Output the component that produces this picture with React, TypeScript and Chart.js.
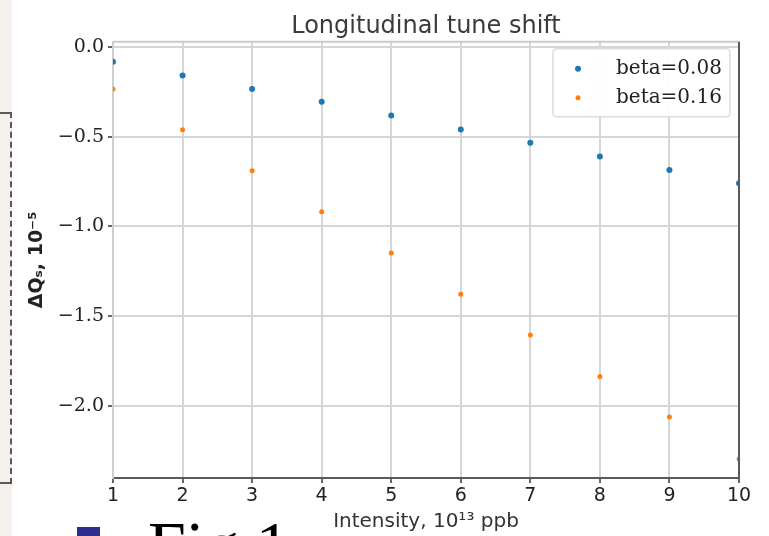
import React, { useEffect, useRef } from 'react';
import { Chart, registerables } from 'chart.js';

Chart.register(...registerables);

const TITLE = 'Longitudinal tune shift';
const X_LABEL = 'Intensity, 10¹³ ppb';
const Y_LABEL = 'ΔQₛ, 10⁻⁵';
const CAPTION = 'Fig.1';

const INTENSITY = [1, 2, 3, 4, 5, 6, 7, 8, 9, 10];
const BETA_008 = [-0.08, -0.157, -0.232, -0.303, -0.381, -0.458, -0.532, -0.609, -0.684, -0.758];
const BETA_016 = [-0.232, -0.46, -0.689, -0.918, -1.148, -1.378, -1.606, -1.837, -2.064, -2.298];
const SERIES_LABELS = ['beta=0.08', 'beta=0.16'];
const SERIES_COLORS = ['#1f77b4', '#ff7f0e'];

const X_MIN = 1;
const X_MAX = 10;
const Y_MIN = -2.404;
const Y_MAX = 0.031;
const Y_TICKS = [0, -0.5, -1.0, -1.5, -2.0];

const fmtY = (v: number) => (v < 0 ? '\u2212' + Math.abs(v).toFixed(1) : v.toFixed(1));

const framePlugin = {
  id: 'frame',
  afterDatasetsDraw(chart: any) {
    const { ctx, chartArea } = chart;
    const { left, right, top, bottom } = chartArea;
    ctx.save();
    ctx.lineWidth = 2;
    ctx.strokeStyle = '#cbcbcb';
    ctx.beginPath();
    ctx.moveTo(left, top);
    ctx.lineTo(right, top);
    ctx.stroke();
    ctx.strokeStyle = '#5a5a5a';
    ctx.beginPath();
    ctx.moveTo(right, top);
    ctx.lineTo(right, bottom + 1);
    ctx.stroke();
    ctx.restore();
  },
  afterDraw(chart: any) {
    const { ctx, chartArea } = chart;
    const boxW = 177;
    const boxH = 68;
    const bx = chartArea.right - 9 - boxW;
    const by = chartArea.top + 7;
    ctx.save();
    ctx.beginPath();
    const r = 4;
    ctx.moveTo(bx + r, by);
    ctx.lineTo(bx + boxW - r, by);
    ctx.quadraticCurveTo(bx + boxW, by, bx + boxW, by + r);
    ctx.lineTo(bx + boxW, by + boxH - r);
    ctx.quadraticCurveTo(bx + boxW, by + boxH, bx + boxW - r, by + boxH);
    ctx.lineTo(bx + r, by + boxH);
    ctx.quadraticCurveTo(bx, by + boxH, bx, by + boxH - r);
    ctx.lineTo(bx, by + r);
    ctx.quadraticCurveTo(bx, by, bx + r, by);
    ctx.closePath();
    ctx.fillStyle = 'rgba(255,255,255,0.92)';
    ctx.fill();
    ctx.strokeStyle = '#dcdcdc';
    ctx.lineWidth = 1.5;
    ctx.stroke();
    chart.data.datasets.forEach((ds: any, i: number) => {
      const cy = by + 20 + i * 29;
      ctx.beginPath();
      ctx.arc(bx + 25, cy, i === 0 ? 3 : 2.5, 0, Math.PI * 2);
      ctx.fillStyle = ds.backgroundColor;
      ctx.fill();
      ctx.fillStyle = '#222';
      ctx.font = '20px "DejaVu Serif"';
      ctx.textBaseline = 'middle';
      ctx.textAlign = 'left';
      ctx.fillText(ds.label, bx + 63, cy);
    });
    ctx.restore();
  },
};

export default function App() {
  const canvasRef = useRef<HTMLCanvasElement | null>(null);

  useEffect(() => {
    const canvas = canvasRef.current;
    if (!canvas) return;
    const chart = new Chart(canvas, {
      type: 'scatter',
      data: {
        datasets: [
          {
            label: SERIES_LABELS[0],
            data: INTENSITY.map((x, i) => ({ x, y: BETA_008[i] })),
            backgroundColor: SERIES_COLORS[0],
            borderColor: SERIES_COLORS[0],
            pointRadius: 3,
            pointBorderWidth: 0,
          },
          {
            label: SERIES_LABELS[1],
            data: INTENSITY.map((x, i) => ({ x, y: BETA_016[i] })),
            backgroundColor: SERIES_COLORS[1],
            borderColor: SERIES_COLORS[1],
            pointRadius: 2.5,
            pointBorderWidth: 0,
          },
        ],
      },
      options: {
        animation: false,
        responsive: false,
        devicePixelRatio: 1,
        layout: { padding: { top: 0, right: 30, bottom: 0, left: 0 } },
        plugins: {
          legend: { display: false },
          tooltip: { enabled: false },
          title: {
            display: true,
            fullSize: false,
            text: TITLE,
            color: '#3a3a3a',
            font: { family: '"DejaVu Sans"', size: 24, weight: 'normal', lineHeight: 1.2 },
            padding: { top: 12, bottom: 1 },
          },
        },
        scales: {
          x: {
            type: 'linear',
            min: X_MIN,
            max: X_MAX,
            afterFit: (scale: any) => {
              scale.height = 58;
            },
            ticks: {
              stepSize: 1,
              color: '#222',
              padding: 2,
              font: { family: '"DejaVu Sans"', size: 19 },
              maxRotation: 0,
            },
            grid: { color: '#d6d6d6', lineWidth: 2, tickLength: 5, tickColor: '#666' },
            border: { display: true, color: '#5a5a5a', width: 2 },
            title: {
              display: true,
              text: X_LABEL,
              color: '#333',
              font: { family: '"DejaVu Sans"', size: 20, lineHeight: 1.2 },
              padding: { top: 0, bottom: 2 },
            },
          },
          y: {
            type: 'linear',
            min: Y_MIN,
            max: Y_MAX,
            afterFit: (scale: any) => {
              scale.width = 113;
            },
            afterBuildTicks: (scale: any) => {
              scale.ticks = Y_TICKS.map((v) => ({ value: v }));
            },
            ticks: {
              color: '#222',
              padding: 4,
              font: { family: '"DejaVu Serif"', size: 19 },
              callback: (v: any) => fmtY(Number(v)),
            },
            grid: { color: '#d6d6d6', lineWidth: 2, tickLength: 5, tickColor: '#666' },
            border: { display: true, color: '#cfcfcf', width: 2 },
            title: {
              display: true,
              text: Y_LABEL,
              color: '#222',
              font: { family: '"DejaVu Sans"', size: 19, weight: 'bold', lineHeight: 1.2 },
              padding: { top: 25.6, bottom: 0 },
            },
          },
        },
      },
      plugins: [framePlugin],
    } as any);
    return () => chart.destroy();
  }, []);

  return (
    <div
      style={{
        position: 'absolute',
        left: 0,
        top: 0,
        width: 769,
        height: 536,
        overflow: 'hidden',
        background: '#ffffff',
      }}
    >
      <canvas ref={canvasRef} width={769} height={536} style={{ display: 'block', width: 769, height: 536 }} />
      <div style={{ position: 'absolute', left: 0, top: 0, width: 12, height: 536, background: '#f4f1ec' }} />
      <div
        style={{
          position: 'absolute',
          left: 0,
          top: 112,
          width: 10,
          height: 368,
          borderTop: '2px dashed #5a5a5a',
          borderRight: '2px dashed #5a5a5a',
          borderBottom: '2px dashed #5a5a5a',
        }}
      />
      <div style={{ position: 'absolute', left: 77, top: 527, width: 23, height: 12, background: '#2e2e8e' }} />
      <div
        style={{
          position: 'absolute',
          left: 148,
          top: 511,
          fontFamily: '"Liberation Serif", serif',
          fontSize: 68,
          lineHeight: '68px',
          color: '#000',
          whiteSpace: 'nowrap',
        }}
      >
        {CAPTION}
      </div>
    </div>
  );
}
